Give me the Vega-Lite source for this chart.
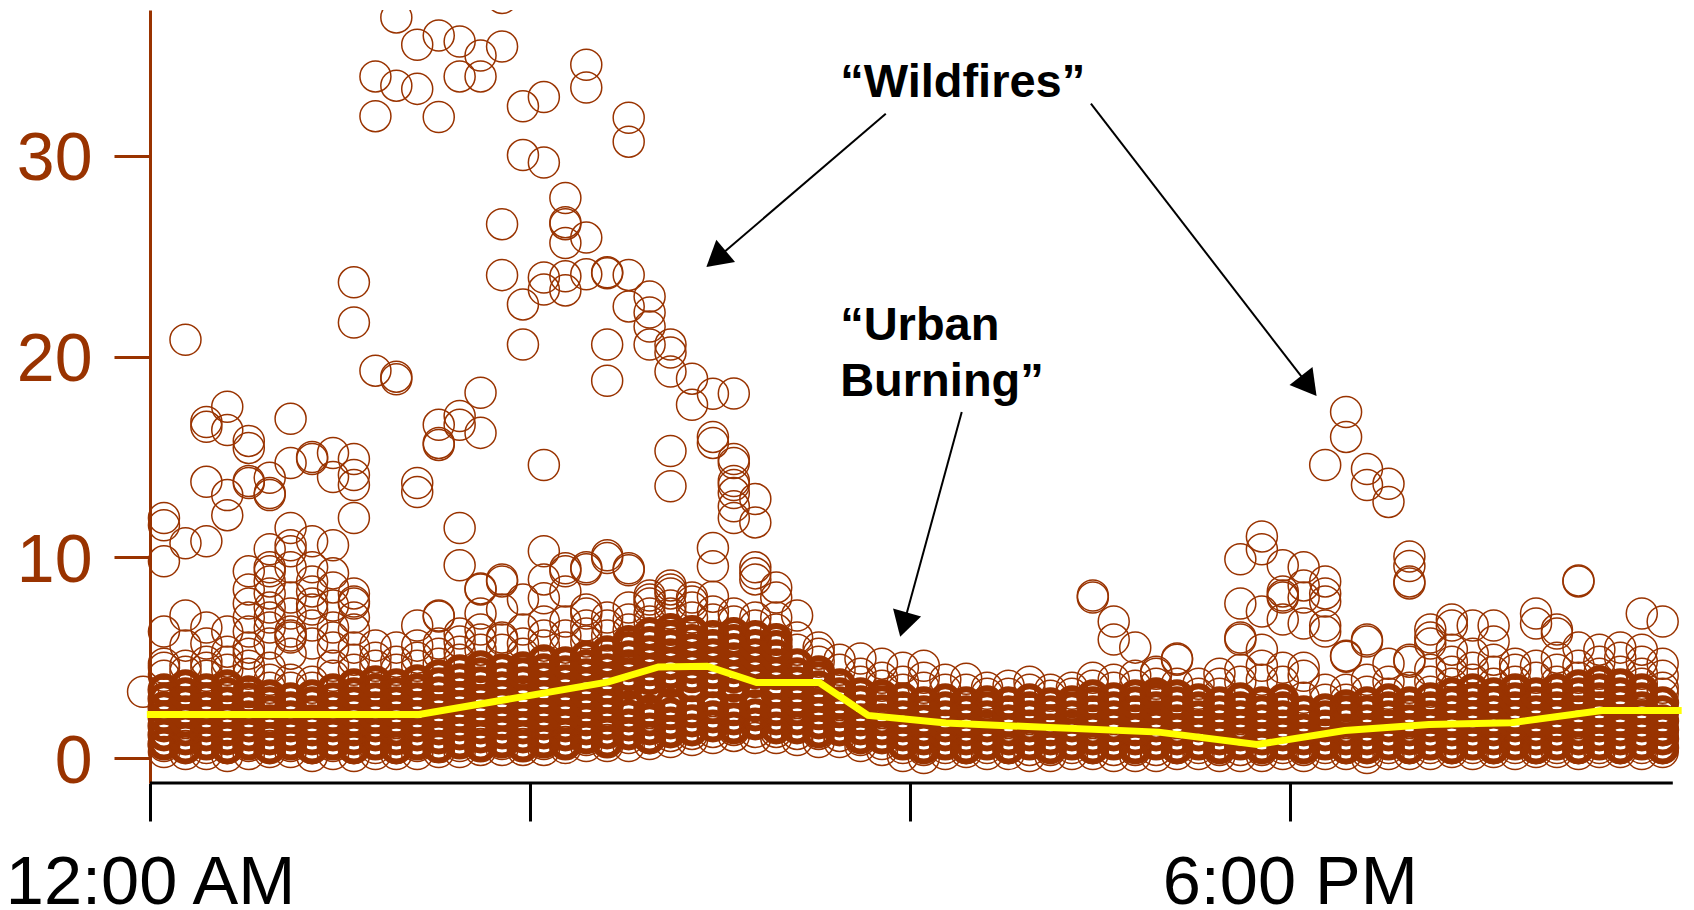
{"$schema":"https://vega.github.io/schema/vega-lite/v6.json","autosize":{"type":"none"},"padding":{"left":100,"top":10,"right":6,"bottom":127},"width":1588,"height":773,"background":"white","config":{"view":{"stroke":null}},
"datasets":{
"core":[
{"h":0.22,"v":0.7},{"h":0.22,"v":1.15},{"h":0.22,"v":1.6},{"h":0.22,"v":2.05},{"h":0.22,"v":2.5},{"h":0.22,"v":2.95},{"h":0.22,"v":3.4},
{"h":0.56,"v":0.5},{"h":0.56,"v":0.95},{"h":0.56,"v":1.4},{"h":0.56,"v":1.85},{"h":0.56,"v":2.3},{"h":0.56,"v":2.75},{"h":0.56,"v":3.2},{"h":0.56,"v":3.6},
{"h":0.89,"v":0.7},{"h":0.89,"v":1.15},{"h":0.89,"v":1.6},{"h":0.89,"v":2.05},{"h":0.89,"v":2.5},{"h":0.89,"v":2.95},{"h":0.89,"v":3.4},
{"h":1.22,"v":0.5},{"h":1.22,"v":0.95},{"h":1.22,"v":1.4},{"h":1.22,"v":1.85},{"h":1.22,"v":2.3},{"h":1.22,"v":2.75},{"h":1.22,"v":3.2},{"h":1.22,"v":3.6},
{"h":1.56,"v":0.7},{"h":1.56,"v":1.15},{"h":1.56,"v":1.6},{"h":1.56,"v":2.05},{"h":1.56,"v":2.5},{"h":1.56,"v":2.95},{"h":1.56,"v":3.3},
{"h":1.89,"v":0.5},{"h":1.89,"v":0.95},{"h":1.89,"v":1.4},{"h":1.89,"v":1.85},{"h":1.89,"v":2.3},{"h":1.89,"v":2.75},{"h":1.89,"v":3.1},
{"h":2.22,"v":0.7},{"h":2.22,"v":1.15},{"h":2.22,"v":1.6},{"h":2.22,"v":2.05},{"h":2.22,"v":2.5},{"h":2.22,"v":2.95},
{"h":2.56,"v":0.5},{"h":2.56,"v":0.95},{"h":2.56,"v":1.4},{"h":2.56,"v":1.85},{"h":2.56,"v":2.3},{"h":2.56,"v":2.75},{"h":2.56,"v":3.1},
{"h":2.89,"v":0.7},{"h":2.89,"v":1.15},{"h":2.89,"v":1.6},{"h":2.89,"v":2.05},{"h":2.89,"v":2.5},{"h":2.89,"v":2.95},{"h":2.89,"v":3.4},
{"h":3.22,"v":0.5},{"h":3.22,"v":0.95},{"h":3.22,"v":1.4},{"h":3.22,"v":1.85},{"h":3.22,"v":2.3},{"h":3.22,"v":2.75},{"h":3.22,"v":3.2},{"h":3.22,"v":3.65},
{"h":3.56,"v":0.7},{"h":3.56,"v":1.15},{"h":3.56,"v":1.6},{"h":3.56,"v":2.05},{"h":3.56,"v":2.5},{"h":3.56,"v":2.95},{"h":3.56,"v":3.4},{"h":3.56,"v":3.8},
{"h":3.89,"v":0.5},{"h":3.89,"v":0.95},{"h":3.89,"v":1.4},{"h":3.89,"v":1.85},{"h":3.89,"v":2.3},{"h":3.89,"v":2.75},{"h":3.89,"v":3.2},{"h":3.89,"v":3.65},
{"h":4.22,"v":0.7},{"h":4.22,"v":1.15},{"h":4.22,"v":1.6},{"h":4.22,"v":2.05},{"h":4.22,"v":2.5},{"h":4.22,"v":2.95},{"h":4.22,"v":3.4},{"h":4.22,"v":3.85},
{"h":4.56,"v":0.55},{"h":4.56,"v":1},{"h":4.56,"v":1.45},{"h":4.56,"v":1.9},{"h":4.56,"v":2.35},{"h":4.56,"v":2.8},{"h":4.56,"v":3.25},{"h":4.56,"v":3.7},{"h":4.56,"v":4.1},
{"h":4.89,"v":0.75},{"h":4.89,"v":1.2},{"h":4.89,"v":1.65},{"h":4.89,"v":2.1},{"h":4.89,"v":2.55},{"h":4.89,"v":3},{"h":4.89,"v":3.45},{"h":4.89,"v":3.9},{"h":4.89,"v":4.35},
{"h":5.22,"v":0.6},{"h":5.22,"v":1.05},{"h":5.22,"v":1.5},{"h":5.22,"v":1.95},{"h":5.22,"v":2.4},{"h":5.22,"v":2.85},{"h":5.22,"v":3.3},{"h":5.22,"v":3.75},{"h":5.22,"v":4.2},{"h":5.22,"v":4.55},
{"h":5.56,"v":0.8},{"h":5.56,"v":1.25},{"h":5.56,"v":1.7},{"h":5.56,"v":2.15},{"h":5.56,"v":2.6},{"h":5.56,"v":3.05},{"h":5.56,"v":3.5},{"h":5.56,"v":3.95},{"h":5.56,"v":4.4},
{"h":5.89,"v":0.6},{"h":5.89,"v":1.05},{"h":5.89,"v":1.5},{"h":5.89,"v":1.95},{"h":5.89,"v":2.4},{"h":5.89,"v":2.85},{"h":5.89,"v":3.3},{"h":5.89,"v":3.75},{"h":5.89,"v":4.2},{"h":5.89,"v":4.5},
{"h":6.22,"v":0.8},{"h":6.22,"v":1.25},{"h":6.22,"v":1.7},{"h":6.22,"v":2.15},{"h":6.22,"v":2.6},{"h":6.22,"v":3.05},{"h":6.22,"v":3.5},{"h":6.22,"v":3.95},{"h":6.22,"v":4.4},{"h":6.22,"v":4.85},
{"h":6.56,"v":0.7},{"h":6.56,"v":1.15},{"h":6.56,"v":1.6},{"h":6.56,"v":2.05},{"h":6.56,"v":2.5},{"h":6.56,"v":2.95},{"h":6.56,"v":3.4},{"h":6.56,"v":3.85},{"h":6.56,"v":4.3},{"h":6.56,"v":4.75},
{"h":6.89,"v":1},{"h":6.89,"v":1.45},{"h":6.89,"v":1.9},{"h":6.89,"v":2.35},{"h":6.89,"v":2.8},{"h":6.89,"v":3.25},{"h":6.89,"v":3.7},{"h":6.89,"v":4.15},{"h":6.89,"v":4.6},{"h":6.89,"v":5.05},
{"h":7.22,"v":0.8},{"h":7.22,"v":1.25},{"h":7.22,"v":1.7},{"h":7.22,"v":2.15},{"h":7.22,"v":2.6},{"h":7.22,"v":3.05},{"h":7.22,"v":3.5},{"h":7.22,"v":3.95},{"h":7.22,"v":4.4},{"h":7.22,"v":4.85},{"h":7.22,"v":5.3},
{"h":7.56,"v":1.2},{"h":7.56,"v":1.65},{"h":7.56,"v":2.1},{"h":7.56,"v":2.55},{"h":7.56,"v":3.7},{"h":7.56,"v":4.15},{"h":7.56,"v":4.6},{"h":7.56,"v":5.05},{"h":7.56,"v":5.5},{"h":7.56,"v":5.8},
{"h":7.89,"v":1},{"h":7.89,"v":1.45},{"h":7.89,"v":1.9},{"h":7.89,"v":2.35},{"h":7.89,"v":3.5},{"h":7.89,"v":3.95},{"h":7.89,"v":4.4},{"h":7.89,"v":4.85},{"h":7.89,"v":5.3},{"h":7.89,"v":5.75},{"h":7.89,"v":6.2},
{"h":8.22,"v":1.3},{"h":8.22,"v":1.75},{"h":8.22,"v":2.2},{"h":8.22,"v":2.65},{"h":8.22,"v":3.8},{"h":8.22,"v":4.25},{"h":8.22,"v":4.7},{"h":8.22,"v":5.15},{"h":8.22,"v":5.6},{"h":8.22,"v":6.05},{"h":8.22,"v":6.4},
{"h":8.56,"v":1.4},{"h":8.56,"v":1.85},{"h":8.56,"v":2.3},{"h":8.56,"v":3.6},{"h":8.56,"v":4.05},{"h":8.56,"v":4.5},{"h":8.56,"v":4.95},{"h":8.56,"v":5.4},{"h":8.56,"v":5.85},{"h":8.56,"v":6.3},
{"h":8.89,"v":1.6},{"h":8.89,"v":2.05},{"h":8.89,"v":2.5},{"h":8.89,"v":3.8},{"h":8.89,"v":4.25},{"h":8.89,"v":4.7},{"h":8.89,"v":5.15},{"h":8.89,"v":5.6},{"h":8.89,"v":6.05},
{"h":9.22,"v":1.5},{"h":9.22,"v":1.95},{"h":9.22,"v":2.4},{"h":9.22,"v":3.6},{"h":9.22,"v":4.05},{"h":9.22,"v":4.5},{"h":9.22,"v":4.95},{"h":9.22,"v":5.4},{"h":9.22,"v":5.85},{"h":9.22,"v":6.2},
{"h":9.56,"v":1.7},{"h":9.56,"v":2.15},{"h":9.56,"v":2.6},{"h":9.56,"v":3.8},{"h":9.56,"v":4.25},{"h":9.56,"v":4.7},{"h":9.56,"v":5.15},{"h":9.56,"v":5.6},{"h":9.56,"v":6.05},
{"h":9.89,"v":1.5},{"h":9.89,"v":1.95},{"h":9.89,"v":2.4},{"h":9.89,"v":3.3},{"h":9.89,"v":3.75},{"h":9.89,"v":4.2},{"h":9.89,"v":4.65},{"h":9.89,"v":5.1},{"h":9.89,"v":5.55},{"h":9.89,"v":5.9},
{"h":10.22,"v":1.5},{"h":10.22,"v":1.95},{"h":10.22,"v":2.4},{"h":10.22,"v":2.85},{"h":10.22,"v":3.3},{"h":10.22,"v":3.75},{"h":10.22,"v":4.2},{"h":10.22,"v":4.65},
{"h":10.56,"v":1.3},{"h":10.56,"v":1.75},{"h":10.56,"v":2.2},{"h":10.56,"v":2.65},{"h":10.56,"v":3.1},{"h":10.56,"v":3.55},{"h":10.56,"v":4},{"h":10.56,"v":4.3},
{"h":10.89,"v":1.4},{"h":10.89,"v":1.85},{"h":10.89,"v":2.3},{"h":10.89,"v":2.75},{"h":10.89,"v":3.2},{"h":10.89,"v":3.65},
{"h":11.22,"v":1},{"h":11.22,"v":1.45},{"h":11.22,"v":1.9},{"h":11.22,"v":2.35},{"h":11.22,"v":2.8},{"h":11.22,"v":3.2},
{"h":11.56,"v":1},{"h":11.56,"v":1.45},{"h":11.56,"v":1.9},{"h":11.56,"v":2.35},{"h":11.56,"v":2.8},{"h":11.56,"v":3.1},
{"h":11.89,"v":0.7},{"h":11.89,"v":1.15},{"h":11.89,"v":1.6},{"h":11.89,"v":2.05},{"h":11.89,"v":2.5},{"h":11.89,"v":2.95},
{"h":12.22,"v":0.5},{"h":12.22,"v":0.95},{"h":12.22,"v":1.4},{"h":12.22,"v":1.85},{"h":12.22,"v":2.3},{"h":12.22,"v":2.75},
{"h":12.56,"v":0.7},{"h":12.56,"v":1.15},{"h":12.56,"v":1.6},{"h":12.56,"v":2.05},{"h":12.56,"v":2.5},{"h":12.56,"v":2.9},
{"h":12.89,"v":0.5},{"h":12.89,"v":0.95},{"h":12.89,"v":1.4},{"h":12.89,"v":1.85},{"h":12.89,"v":2.3},{"h":12.89,"v":2.75},
{"h":13.22,"v":0.7},{"h":13.22,"v":1.15},{"h":13.22,"v":1.6},{"h":13.22,"v":2.05},{"h":13.22,"v":2.5},{"h":13.22,"v":2.8},
{"h":13.56,"v":0.5},{"h":13.56,"v":0.95},{"h":13.56,"v":1.4},{"h":13.56,"v":1.85},{"h":13.56,"v":2.3},{"h":13.56,"v":2.75},
{"h":13.89,"v":0.7},{"h":13.89,"v":1.15},{"h":13.89,"v":1.6},{"h":13.89,"v":2.05},{"h":13.89,"v":2.5},{"h":13.89,"v":2.9},
{"h":14.22,"v":0.5},{"h":14.22,"v":0.95},{"h":14.22,"v":1.4},{"h":14.22,"v":1.85},{"h":14.22,"v":2.3},{"h":14.22,"v":2.7},
{"h":14.56,"v":0.7},{"h":14.56,"v":1.15},{"h":14.56,"v":1.6},{"h":14.56,"v":2.05},{"h":14.56,"v":2.5},{"h":14.56,"v":2.8},
{"h":14.89,"v":0.5},{"h":14.89,"v":0.95},{"h":14.89,"v":1.4},{"h":14.89,"v":1.85},{"h":14.89,"v":2.3},{"h":14.89,"v":2.75},{"h":14.89,"v":3.1},
{"h":15.22,"v":0.7},{"h":15.22,"v":1.15},{"h":15.22,"v":1.6},{"h":15.22,"v":2.05},{"h":15.22,"v":2.5},{"h":15.22,"v":2.95},
{"h":15.56,"v":0.5},{"h":15.56,"v":0.95},{"h":15.56,"v":1.4},{"h":15.56,"v":1.85},{"h":15.56,"v":2.3},{"h":15.56,"v":2.75},{"h":15.56,"v":3.1},
{"h":15.89,"v":0.7},{"h":15.89,"v":1.15},{"h":15.89,"v":1.6},{"h":15.89,"v":2.05},{"h":15.89,"v":2.5},{"h":15.89,"v":2.95},{"h":15.89,"v":3.2},
{"h":16.22,"v":0.5},{"h":16.22,"v":0.95},{"h":16.22,"v":1.4},{"h":16.22,"v":1.85},{"h":16.22,"v":2.3},{"h":16.22,"v":2.75},{"h":16.22,"v":3.1},
{"h":16.56,"v":0.7},{"h":16.56,"v":1.15},{"h":16.56,"v":1.6},{"h":16.56,"v":2.05},{"h":16.56,"v":2.5},{"h":16.56,"v":2.9},
{"h":16.89,"v":0.5},{"h":16.89,"v":0.95},{"h":16.89,"v":1.4},{"h":16.89,"v":1.85},{"h":16.89,"v":2.3},{"h":16.89,"v":2.75},
{"h":17.22,"v":0.7},{"h":17.22,"v":1.15},{"h":17.22,"v":1.6},{"h":17.22,"v":2.05},{"h":17.22,"v":2.5},{"h":17.22,"v":2.95},
{"h":17.56,"v":0.5},{"h":17.56,"v":0.95},{"h":17.56,"v":1.4},{"h":17.56,"v":1.85},{"h":17.56,"v":2.3},{"h":17.56,"v":2.75},
{"h":17.89,"v":0.7},{"h":17.89,"v":1.15},{"h":17.89,"v":1.6},{"h":17.89,"v":2.05},{"h":17.89,"v":2.5},{"h":17.89,"v":2.9},
{"h":18.22,"v":0.5},{"h":18.22,"v":0.95},{"h":18.22,"v":1.4},{"h":18.22,"v":1.85},{"h":18.22,"v":2.3},
{"h":18.56,"v":0.7},{"h":18.56,"v":1.15},{"h":18.56,"v":1.6},{"h":18.56,"v":2.05},{"h":18.56,"v":2.4},
{"h":18.89,"v":0.5},{"h":18.89,"v":0.95},{"h":18.89,"v":1.4},{"h":18.89,"v":1.85},{"h":18.89,"v":2.3},{"h":18.89,"v":2.6},
{"h":19.22,"v":0.5},{"h":19.22,"v":0.95},{"h":19.22,"v":1.4},{"h":19.22,"v":1.85},{"h":19.22,"v":2.3},{"h":19.22,"v":2.75},
{"h":19.56,"v":0.7},{"h":19.56,"v":1.15},{"h":19.56,"v":1.6},{"h":19.56,"v":2.05},{"h":19.56,"v":2.5},{"h":19.56,"v":2.9},
{"h":19.89,"v":0.5},{"h":19.89,"v":0.95},{"h":19.89,"v":1.4},{"h":19.89,"v":1.85},{"h":19.89,"v":2.3},{"h":19.89,"v":2.75},
{"h":20.22,"v":0.7},{"h":20.22,"v":1.15},{"h":20.22,"v":1.6},{"h":20.22,"v":2.05},{"h":20.22,"v":2.5},{"h":20.22,"v":2.95},
{"h":20.56,"v":0.5},{"h":20.56,"v":0.95},{"h":20.56,"v":1.4},{"h":20.56,"v":1.85},{"h":20.56,"v":2.3},{"h":20.56,"v":2.75},{"h":20.56,"v":3.2},
{"h":20.89,"v":0.7},{"h":20.89,"v":1.15},{"h":20.89,"v":1.6},{"h":20.89,"v":2.05},{"h":20.89,"v":2.5},{"h":20.89,"v":2.95},{"h":20.89,"v":3.4},
{"h":21.22,"v":0.5},{"h":21.22,"v":0.95},{"h":21.22,"v":1.4},{"h":21.22,"v":1.85},{"h":21.22,"v":2.3},{"h":21.22,"v":2.75},{"h":21.22,"v":3.2},
{"h":21.56,"v":0.7},{"h":21.56,"v":1.15},{"h":21.56,"v":1.6},{"h":21.56,"v":2.05},{"h":21.56,"v":2.5},{"h":21.56,"v":2.95},{"h":21.56,"v":3.4},
{"h":21.89,"v":0.5},{"h":21.89,"v":0.95},{"h":21.89,"v":1.4},{"h":21.89,"v":1.85},{"h":21.89,"v":2.3},{"h":21.89,"v":2.75},{"h":21.89,"v":3.2},
{"h":22.22,"v":0.7},{"h":22.22,"v":1.15},{"h":22.22,"v":1.6},{"h":22.22,"v":2.05},{"h":22.22,"v":2.5},{"h":22.22,"v":2.95},{"h":22.22,"v":3.4},
{"h":22.56,"v":0.5},{"h":22.56,"v":0.95},{"h":22.56,"v":1.4},{"h":22.56,"v":1.85},{"h":22.56,"v":2.3},{"h":22.56,"v":2.75},{"h":22.56,"v":3.2},{"h":22.56,"v":3.6},
{"h":22.89,"v":0.7},{"h":22.89,"v":1.15},{"h":22.89,"v":1.6},{"h":22.89,"v":2.05},{"h":22.89,"v":2.5},{"h":22.89,"v":2.95},{"h":22.89,"v":3.4},{"h":22.89,"v":3.8},
{"h":23.22,"v":0.5},{"h":23.22,"v":0.95},{"h":23.22,"v":1.4},{"h":23.22,"v":1.85},{"h":23.22,"v":2.3},{"h":23.22,"v":2.75},{"h":23.22,"v":3.2},{"h":23.22,"v":3.65},
{"h":23.56,"v":0.7},{"h":23.56,"v":1.15},{"h":23.56,"v":1.6},{"h":23.56,"v":2.05},{"h":23.56,"v":2.5},{"h":23.56,"v":2.95},{"h":23.56,"v":3.4},
{"h":23.89,"v":0.5},{"h":23.89,"v":0.95},{"h":23.89,"v":1.4},{"h":23.89,"v":1.85},{"h":23.89,"v":2.3},{"h":23.89,"v":2.75}
],
"pts":[
{"h":-0.11,"v":3.3},
{"h":0.22,"v":0.3},{"h":0.22,"v":0.6},{"h":0.22,"v":4.7},{"h":0.22,"v":4.5},{"h":0.22,"v":4.1},{"h":0.22,"v":11.96},{"h":0.22,"v":11.6},{"h":0.22,"v":9.8},{"h":0.22,"v":6.3},
{"h":0.56,"v":0.2},{"h":0.56,"v":0.6},{"h":0.56,"v":4.6},{"h":0.56,"v":4.3},{"h":0.56,"v":20.84},{"h":0.56,"v":10.7},{"h":0.56,"v":7.1},{"h":0.56,"v":5.6},
{"h":0.89,"v":0.2},{"h":0.89,"v":0.5},{"h":0.89,"v":4.8},{"h":0.89,"v":4.5},{"h":0.89,"v":4.1},{"h":0.89,"v":16.74},{"h":0.89,"v":16.5},{"h":0.89,"v":13.76},{"h":0.89,"v":10.8},{"h":0.89,"v":6.5},{"h":0.89,"v":5.7},
{"h":1.22,"v":0.1},{"h":1.22,"v":0.5},{"h":1.22,"v":4.8},{"h":1.22,"v":4.4},{"h":1.22,"v":17.5},{"h":1.22,"v":16.34},{"h":1.22,"v":13.1},{"h":1.22,"v":12.1},{"h":1.22,"v":6.3},{"h":1.22,"v":5.3},
{"h":1.56,"v":0.2},{"h":1.56,"v":0.6},{"h":1.56,"v":4.6},{"h":1.56,"v":4.2},{"h":1.56,"v":15.8},{"h":1.56,"v":15.45},{"h":1.56,"v":13.8},{"h":1.56,"v":13.7},{"h":1.56,"v":9.3},{"h":1.56,"v":8.4},{"h":1.56,"v":7.7},{"h":1.56,"v":7},{"h":1.56,"v":6.3},{"h":1.56,"v":5.5},{"h":1.56,"v":5.2},
{"h":1.89,"v":0.3},{"h":1.89,"v":0.6},{"h":1.89,"v":3.9},{"h":1.89,"v":3.5},{"h":1.89,"v":13.96},{"h":1.89,"v":13.2},{"h":1.89,"v":13.1},{"h":1.89,"v":10.4},{"h":1.89,"v":9.5},{"h":1.89,"v":9.3},{"h":1.89,"v":8.8},{"h":1.89,"v":8.2},{"h":1.89,"v":7.5},{"h":1.89,"v":7},{"h":1.89,"v":6.5},{"h":1.89,"v":5.7},{"h":1.89,"v":4.5},
{"h":2.22,"v":0.3},{"h":2.22,"v":0.6},{"h":2.22,"v":3.5},{"h":2.22,"v":3.9},{"h":2.22,"v":16.9},{"h":2.22,"v":14.7},{"h":2.22,"v":11.46},{"h":2.22,"v":10.6},{"h":2.22,"v":10.3},{"h":2.22,"v":9.5},{"h":2.22,"v":8},{"h":2.22,"v":7.2},{"h":2.22,"v":6.3},{"h":2.22,"v":6.1},{"h":2.22,"v":6},{"h":2.22,"v":5.2},
{"h":2.56,"v":0.1},{"h":2.56,"v":0.5},{"h":2.56,"v":3.8},{"h":2.56,"v":3.5},{"h":2.56,"v":14.9},{"h":2.56,"v":15},{"h":2.56,"v":10.8},{"h":2.56,"v":9.5},{"h":2.56,"v":8.8},{"h":2.56,"v":8.3},{"h":2.56,"v":7.7},{"h":2.56,"v":7.4},{"h":2.56,"v":6.6},{"h":2.56,"v":5.7},
{"h":2.89,"v":0.2},{"h":2.89,"v":0.6},{"h":2.89,"v":4.6},{"h":2.89,"v":4.1},{"h":2.89,"v":15.2},{"h":2.89,"v":14},{"h":2.89,"v":10.6},{"h":2.89,"v":9.2},{"h":2.89,"v":8.5},{"h":2.89,"v":7.6},{"h":2.89,"v":6.5},{"h":2.89,"v":6},{"h":2.89,"v":5.5},
{"h":3.22,"v":0.1},{"h":3.22,"v":0.5},{"h":3.22,"v":4.9},{"h":3.22,"v":4.4},{"h":3.22,"v":23.7},{"h":3.22,"v":21.7},{"h":3.22,"v":14.9},{"h":3.22,"v":14.1},{"h":3.22,"v":13.6},{"h":3.22,"v":11.96},{"h":3.22,"v":8.2},{"h":3.22,"v":7.8},{"h":3.22,"v":7.7},{"h":3.22,"v":7},{"h":3.22,"v":6.4},{"h":3.22,"v":5.5},
{"h":3.56,"v":0.2},{"h":3.56,"v":0.5},{"h":3.56,"v":5},{"h":3.56,"v":4.6},{"h":3.56,"v":33.96},{"h":3.56,"v":31.98},{"h":3.56,"v":19.3},{"h":3.56,"v":5.6},
{"h":3.89,"v":0.2},{"h":3.89,"v":0.5},{"h":3.89,"v":4.8},{"h":3.89,"v":4.4},{"h":3.89,"v":36.9},{"h":3.89,"v":33.5},{"h":3.89,"v":19},{"h":3.89,"v":18.875},{"h":3.89,"v":5.5},
{"h":4.22,"v":0.2},{"h":4.22,"v":0.6},{"h":4.22,"v":5},{"h":4.22,"v":4.6},{"h":4.22,"v":35.54},{"h":4.22,"v":33.34},{"h":4.22,"v":13.7},{"h":4.22,"v":13.25},{"h":4.22,"v":6.6},{"h":4.22,"v":5.6},
{"h":4.56,"v":0.3},{"h":4.56,"v":0.6},{"h":4.56,"v":5.2},{"h":4.56,"v":4.7},{"h":4.56,"v":36},{"h":4.56,"v":31.94},{"h":4.56,"v":16.6},{"h":4.56,"v":15.7},{"h":4.56,"v":15.6},{"h":4.56,"v":7.05},{"h":4.56,"v":7.1},{"h":4.56,"v":5.7},
{"h":4.89,"v":0.3},{"h":4.89,"v":0.6},{"h":4.89,"v":5.8},{"h":4.89,"v":5.3},{"h":4.89,"v":4.9},{"h":4.89,"v":35.7},{"h":4.89,"v":33.96},{"h":4.89,"v":17.04},{"h":4.89,"v":16.6},{"h":4.89,"v":11.46},{"h":4.89,"v":9.6},{"h":4.89,"v":6.2},
{"h":5.22,"v":0.4},{"h":5.22,"v":0.7},{"h":5.22,"v":5.9},{"h":5.22,"v":5.4},{"h":5.22,"v":35},{"h":5.22,"v":33.96},{"h":5.22,"v":18.2},{"h":5.22,"v":16.2},{"h":5.22,"v":8.45},{"h":5.22,"v":8.4},{"h":5.22,"v":7.2},{"h":5.22,"v":6.4},
{"h":5.56,"v":0.4},{"h":5.56,"v":0.7},{"h":5.56,"v":6},{"h":5.56,"v":5.4},{"h":5.56,"v":37.87},{"h":5.56,"v":35.45},{"h":5.56,"v":26.6},{"h":5.56,"v":24.06},{"h":5.56,"v":8.8},{"h":5.56,"v":8.9},{"h":5.56,"v":7.4},{"h":5.56,"v":5.9},
{"h":5.89,"v":0.4},{"h":5.89,"v":0.7},{"h":5.89,"v":5.7},{"h":5.89,"v":5.2},{"h":5.89,"v":32.47},{"h":5.89,"v":30.04},{"h":5.89,"v":22.6},{"h":5.89,"v":20.6},{"h":5.89,"v":7.9},{"h":5.89,"v":6.4},
{"h":6.22,"v":0.4},{"h":6.22,"v":0.7},{"h":6.22,"v":6.1},{"h":6.22,"v":5.6},{"h":6.22,"v":32.93},{"h":6.22,"v":29.67},{"h":6.22,"v":23.94},{"h":6.22,"v":23.34},{"h":6.22,"v":14.6},{"h":6.22,"v":10.3},{"h":6.22,"v":8.9},{"h":6.22,"v":7.96},{"h":6.22,"v":6.8},
{"h":6.56,"v":0.5},{"h":6.56,"v":0.8},{"h":6.56,"v":6.1},{"h":6.56,"v":5.5},{"h":6.56,"v":27.9},{"h":6.56,"v":26.6},{"h":6.56,"v":26.7},{"h":6.56,"v":25.66},{"h":6.56,"v":24},{"h":6.56,"v":23.3},{"h":6.56,"v":9.45},{"h":6.56,"v":9.3},{"h":6.56,"v":8.3},{"h":6.56,"v":6.8},
{"h":6.89,"v":0.6},{"h":6.89,"v":0.9},{"h":6.89,"v":6.2},{"h":6.89,"v":5.8},{"h":6.89,"v":34.54},{"h":6.89,"v":33.41},{"h":6.89,"v":25.93},{"h":6.89,"v":24.1},{"h":6.89,"v":9.5},{"h":6.89,"v":9.4},{"h":6.89,"v":7.4},{"h":6.89,"v":7.2},{"h":6.89,"v":6.6},
{"h":7.22,"v":0.6},{"h":7.22,"v":0.9},{"h":7.22,"v":6.6},{"h":7.22,"v":6.1},{"h":7.22,"v":24.2},{"h":7.22,"v":24.15},{"h":7.22,"v":20.6},{"h":7.22,"v":18.8},{"h":7.22,"v":10.1},{"h":7.22,"v":9.96},{"h":7.22,"v":7},
{"h":7.56,"v":0.6},{"h":7.56,"v":1},{"h":7.56,"v":6.9},{"h":7.56,"v":6.4},{"h":7.56,"v":31.9},{"h":7.56,"v":30.71},{"h":7.56,"v":24.07},{"h":7.56,"v":22.5},{"h":7.56,"v":9.45},{"h":7.56,"v":9.35},{"h":7.56,"v":7.5},
{"h":7.89,"v":0.7},{"h":7.89,"v":1},{"h":7.89,"v":7.2},{"h":7.89,"v":6.8},{"h":7.89,"v":23},{"h":7.89,"v":22.2},{"h":7.89,"v":21.5},{"h":7.89,"v":20.6},{"h":7.89,"v":8.1},{"h":7.89,"v":7.7},{"h":7.89,"v":7.9},
{"h":8.22,"v":0.8},{"h":8.22,"v":1.1},{"h":8.22,"v":7.6},{"h":8.22,"v":7.2},{"h":8.22,"v":20.6},{"h":8.22,"v":20.2},{"h":8.22,"v":19.26},{"h":8.22,"v":15.3},{"h":8.22,"v":13.54},{"h":8.22,"v":8.6},{"h":8.22,"v":8.4},{"h":8.22,"v":8.2},
{"h":8.56,"v":0.9},{"h":8.56,"v":1.2},{"h":8.56,"v":7.5},{"h":8.56,"v":7},{"h":8.56,"v":18.9},{"h":8.56,"v":17.6},{"h":8.56,"v":8},{"h":8.56,"v":7.8},
{"h":8.89,"v":1},{"h":8.89,"v":1.3},{"h":8.89,"v":7.3},{"h":8.89,"v":6.9},{"h":8.89,"v":18.15},{"h":8.89,"v":16},{"h":8.89,"v":15.7},{"h":8.89,"v":10.46},{"h":8.89,"v":9.55},{"h":8.89,"v":8.04},
{"h":9.22,"v":1.1},{"h":9.22,"v":1.4},{"h":9.22,"v":7.2},{"h":9.22,"v":6.8},{"h":9.22,"v":18.16},{"h":9.22,"v":14.9},{"h":9.22,"v":14.7},{"h":9.22,"v":13.8},{"h":9.22,"v":13.6},{"h":9.22,"v":13.2},{"h":9.22,"v":12.54},{"h":9.22,"v":11.96},
{"h":9.56,"v":1},{"h":9.56,"v":1.3},{"h":9.56,"v":7},{"h":9.56,"v":6.6},{"h":9.56,"v":12.9},{"h":9.56,"v":11.74},{"h":9.56,"v":9.5},{"h":9.56,"v":9.2},{"h":9.56,"v":8.9},
{"h":9.89,"v":1},{"h":9.89,"v":1.3},{"h":9.89,"v":7},{"h":9.89,"v":6.4},{"h":9.89,"v":8.5},{"h":9.89,"v":8},
{"h":10.22,"v":0.9},{"h":10.22,"v":1.2},{"h":10.22,"v":7.1},{"h":10.22,"v":6},{"h":10.22,"v":5.4},
{"h":10.56,"v":0.8},{"h":10.56,"v":1.2},{"h":10.56,"v":5.5},{"h":10.56,"v":5.2},{"h":10.56,"v":4.8},
{"h":10.89,"v":0.8},{"h":10.89,"v":1.1},{"h":10.89,"v":4.9},{"h":10.89,"v":4.4},
{"h":11.22,"v":0.6},{"h":11.22,"v":0.9},{"h":11.22,"v":4.96},{"h":11.22,"v":4.2},{"h":11.22,"v":3.8},
{"h":11.56,"v":0.4},{"h":11.56,"v":0.7},{"h":11.56,"v":4.7},{"h":11.56,"v":4},{"h":11.56,"v":3.6},
{"h":11.89,"v":0.1},{"h":11.89,"v":0.5},{"h":11.89,"v":4.5},{"h":11.89,"v":3.8},{"h":11.89,"v":3.4},
{"h":12.22,"v":0},{"h":12.22,"v":0.4},{"h":12.22,"v":4.6},{"h":12.22,"v":4},{"h":12.22,"v":3.5},
{"h":12.56,"v":0.2},{"h":12.56,"v":0.5},{"h":12.56,"v":3.9},{"h":12.56,"v":3.4},
{"h":12.89,"v":0.3},{"h":12.89,"v":0.5},{"h":12.89,"v":3.95},{"h":12.89,"v":3.4},
{"h":13.22,"v":0.2},{"h":13.22,"v":0.5},{"h":13.22,"v":3.5},{"h":13.22,"v":3.2},
{"h":13.56,"v":0.2},{"h":13.56,"v":0.5},{"h":13.56,"v":3.6},{"h":13.56,"v":3.2},
{"h":13.89,"v":0.1},{"h":13.89,"v":0.4},{"h":13.89,"v":3.8},{"h":13.89,"v":3.4},
{"h":14.22,"v":0.1},{"h":14.22,"v":0.4},{"h":14.22,"v":3.4},{"h":14.22,"v":3.1},
{"h":14.56,"v":0.2},{"h":14.56,"v":0.5},{"h":14.56,"v":3.5},{"h":14.56,"v":3.2},
{"h":14.89,"v":0.2},{"h":14.89,"v":0.5},{"h":14.89,"v":8.1},{"h":14.89,"v":8},{"h":14.89,"v":4},{"h":14.89,"v":3.6},
{"h":15.22,"v":0.1},{"h":15.22,"v":0.4},{"h":15.22,"v":6.8},{"h":15.22,"v":5.9},{"h":15.22,"v":3.9},{"h":15.22,"v":3.5},
{"h":15.56,"v":0.1},{"h":15.56,"v":0.4},{"h":15.56,"v":5.5},{"h":15.56,"v":4.1},{"h":15.56,"v":3.6},
{"h":15.89,"v":0.1},{"h":15.89,"v":0.4},{"h":15.89,"v":4.3},{"h":15.89,"v":4.2},{"h":15.89,"v":3.7},
{"h":16.22,"v":0.2},{"h":16.22,"v":0.5},{"h":16.22,"v":4.96},{"h":16.22,"v":4.9},{"h":16.22,"v":3.7},
{"h":16.56,"v":0.2},{"h":16.56,"v":0.5},{"h":16.56,"v":3.7},{"h":16.56,"v":3.2},
{"h":16.89,"v":0.1},{"h":16.89,"v":0.4},{"h":16.89,"v":4.2},{"h":16.89,"v":3.7},{"h":16.89,"v":3.2},
{"h":17.22,"v":0.1},{"h":17.22,"v":0.4},{"h":17.22,"v":9.9},{"h":17.22,"v":7.7},{"h":17.22,"v":6},{"h":17.22,"v":5.9},{"h":17.22,"v":4.4},{"h":17.22,"v":3.8},
{"h":17.56,"v":0.1},{"h":17.56,"v":0.4},{"h":17.56,"v":11.04},{"h":17.56,"v":10.4},{"h":17.56,"v":7.3},{"h":17.56,"v":5.4},{"h":17.56,"v":4.6},{"h":17.56,"v":3.9},
{"h":17.89,"v":0.2},{"h":17.89,"v":0.5},{"h":17.89,"v":9.6},{"h":17.89,"v":8.3},{"h":17.89,"v":8.1},{"h":17.89,"v":8},{"h":17.89,"v":6.9},{"h":17.89,"v":4.5},{"h":17.89,"v":3.8},
{"h":18.22,"v":0.1},{"h":18.22,"v":0.4},{"h":18.22,"v":9.5},{"h":18.22,"v":8.6},{"h":18.22,"v":8},{"h":18.22,"v":6.7},{"h":18.22,"v":4.5},{"h":18.22,"v":4.1},{"h":18.22,"v":3},
{"h":18.56,"v":0.2},{"h":18.56,"v":0.5},{"h":18.56,"v":14.6},{"h":18.56,"v":8.8},{"h":18.56,"v":8.2},{"h":18.56,"v":7.8},{"h":18.56,"v":6.6},{"h":18.56,"v":6.3},{"h":18.56,"v":3.4},{"h":18.56,"v":2.9},
{"h":18.89,"v":0.2},{"h":18.89,"v":0.5},{"h":18.89,"v":17.24},{"h":18.89,"v":16},{"h":18.89,"v":5.05},{"h":18.89,"v":5.1},{"h":18.89,"v":3.4},{"h":18.89,"v":2.9},
{"h":19.22,"v":0},{"h":19.22,"v":0.3},{"h":19.22,"v":14.4},{"h":19.22,"v":13.6},{"h":19.22,"v":5.9},{"h":19.22,"v":5.8},{"h":19.22,"v":3.9},{"h":19.22,"v":3.3},
{"h":19.56,"v":0.2},{"h":19.56,"v":0.5},{"h":19.56,"v":13.66},{"h":19.56,"v":12.76},{"h":19.56,"v":4.7},{"h":19.56,"v":3.8},{"h":19.56,"v":3.2},
{"h":19.89,"v":0.2},{"h":19.89,"v":0.5},{"h":19.89,"v":10.04},{"h":19.89,"v":9.57},{"h":19.89,"v":8.8},{"h":19.89,"v":8.7},{"h":19.89,"v":4.8},{"h":19.89,"v":4.9},{"h":19.89,"v":3.5},
{"h":20.22,"v":0.2},{"h":20.22,"v":0.5},{"h":20.22,"v":6.4},{"h":20.22,"v":6},{"h":20.22,"v":5.7},{"h":20.22,"v":4.4},{"h":20.22,"v":3.8},{"h":20.22,"v":3.3},
{"h":20.56,"v":0.3},{"h":20.56,"v":0.5},{"h":20.56,"v":6.9},{"h":20.56,"v":6.6},{"h":20.56,"v":5.4},{"h":20.56,"v":4.8},{"h":20.56,"v":4.3},{"h":20.56,"v":3.7},
{"h":20.89,"v":0.2},{"h":20.89,"v":0.5},{"h":20.89,"v":6.6},{"h":20.89,"v":5.2},{"h":20.89,"v":4.5},{"h":20.89,"v":3.9},
{"h":21.22,"v":0.3},{"h":21.22,"v":0.5},{"h":21.22,"v":6.6},{"h":21.22,"v":5.8},{"h":21.22,"v":4.9},{"h":21.22,"v":4.3},{"h":21.22,"v":3.7},
{"h":21.56,"v":0.2},{"h":21.56,"v":0.5},{"h":21.56,"v":4.7},{"h":21.56,"v":4.4},{"h":21.56,"v":3.8},
{"h":21.89,"v":0.3},{"h":21.89,"v":0.5},{"h":21.89,"v":7.2},{"h":21.89,"v":6.7},{"h":21.89,"v":4.6},{"h":21.89,"v":4},
{"h":22.22,"v":0.3},{"h":22.22,"v":0.5},{"h":22.22,"v":6.4},{"h":22.22,"v":6.2},{"h":22.22,"v":5},{"h":22.22,"v":4.4},{"h":22.22,"v":3.8},
{"h":22.56,"v":0.2},{"h":22.56,"v":0.5},{"h":22.56,"v":8.8},{"h":22.56,"v":8.85},{"h":22.56,"v":5.5},{"h":22.56,"v":4.6},{"h":22.56,"v":4},
{"h":22.89,"v":0.3},{"h":22.89,"v":0.5},{"h":22.89,"v":5.4},{"h":22.89,"v":4.8},{"h":22.89,"v":4.2},
{"h":23.22,"v":0.3},{"h":23.22,"v":0.5},{"h":23.22,"v":5.5},{"h":23.22,"v":5},{"h":23.22,"v":4.3},
{"h":23.56,"v":0.2},{"h":23.56,"v":0.5},{"h":23.56,"v":7.2},{"h":23.56,"v":5.4},{"h":23.56,"v":4.8},{"h":23.56,"v":4.2},{"h":23.56,"v":3.7},
{"h":23.89,"v":0.3},{"h":23.89,"v":0.5},{"h":23.89,"v":6.8},{"h":23.89,"v":4.7},{"h":23.89,"v":4.1},{"h":23.89,"v":3.5},{"h":23.89,"v":3.2},{"h":23.89,"v":1},{"h":23.89,"v":1.4}
]},
"encoding":{
"x":{"field":"h","type":"quantitative","scale":{"domain":[-0.79,24.29],"nice":false,"zero":false},"title":null,
"axis":{"values":[0,6,12,18],"domain":false,"grid":false,"tickColor":"#000000","tickWidth":3,"tickSize":38,"labelFontSize":68.5,"labelFont":"Liberation Sans","labelColor":"#000000","labelBaseline":"alphabetic","labelPadding":82,"labelLimit":1000,"labelOverlap":false,"labelBound":false,"labelFlush":false,"labelExpr":"datum.value==0?'12:00 AM':datum.value==18?'6:00 PM':''"}},
"y":{"field":"v","type":"quantitative","scale":{"domain":[-1.245,37.27],"nice":false,"zero":false},"title":null,
"axis":{"values":[0,10,20,30],"offset":-50,"grid":false,"domainColor":"#993300","domainWidth":3,"tickColor":"#993300","tickWidth":3,"tickSize":36,"labelFontSize":68,"labelFont":"Liberation Sans","labelColor":"#993300","labelPadding":22,"labelOffset":4,"labelLimit":1000,"labelOverlap":false,"labelBound":false}}
},
"layer":[
{"data":{"name":"core"},"mark":{"type":"point","shape":"circle","filled":false,"fill":null,"size":730,"strokeWidth":6,"color":"#993300","opacity":1,"clip":true}},
{"data":{"name":"pts"},"mark":{"type":"point","shape":"circle","filled":false,"fill":null,"size":962,"strokeWidth":1.5,"color":"#993300","opacity":1,"clip":true}},
{"data":{"values":[{"h":-0.05,"v":2.17},{"h":4.25,"v":2.17},{"h":7.24,"v":3.79},{"h":8.03,"v":4.54},{"h":8.8,"v":4.57},{"h":9.58,"v":3.76},{"h":10.57,"v":3.76},{"h":11.34,"v":2.12},{"h":12.57,"v":1.74},{"h":15.93,"v":1.29},{"h":17.48,"v":0.67},{"h":18.87,"v":1.37},{"h":20.2,"v":1.67},{"h":21.5,"v":1.76},{"h":22.93,"v":2.37},{"h":24.19,"v":2.37}]},"mark":{"type":"line","color":"#FFFF00","strokeWidth":7,"strokeJoin":"miter","interpolate":"linear"}},
{"data":{"values":[{"h":0,"v":-1.245,"h2":24.05}]},"mark":{"type":"rule","color":"#000000","strokeWidth":3},"encoding":{"x2":{"field":"h2"}}},
{"data":{"values":[{"h":11.62,"v":32.1,"h2":8.99,"v2":25},{"h":14.86,"v":32.6,"h2":18.26,"v2":18.7},{"h":12.82,"v":17.24,"h2":11.92,"v2":6.85}]},"mark":{"type":"rule","color":"#000000","strokeWidth":2},"encoding":{"x2":{"field":"h2"},"y2":{"field":"v2"}}},
{"data":{"values":[{"h":8.99,"v":25}]},"mark":{"type":"point","shape":"triangle","filled":true,"size":850,"angle":230,"color":"#000000","opacity":1}},
{"data":{"values":[{"h":18.26,"v":18.7}]},"mark":{"type":"point","shape":"triangle","filled":true,"size":850,"angle":142,"color":"#000000","opacity":1}},
{"data":{"values":[{"h":11.92,"v":6.85}]},"mark":{"type":"point","shape":"triangle","filled":true,"size":850,"angle":195.8,"color":"#000000","opacity":1}},
{"data":{"values":[{"h":10.9,"v":32.92,"t":"“Wildfires”"},{"h":10.9,"v":20.85,"t":"“Urban"},{"h":10.9,"v":18.04,"t":"Burning”"}]},"mark":{"type":"text","align":"left","baseline":"alphabetic","font":"Liberation Sans","fontWeight":"bold","fontSize":47,"color":"#000000"},"encoding":{"text":{"field":"t"}}}
]}
